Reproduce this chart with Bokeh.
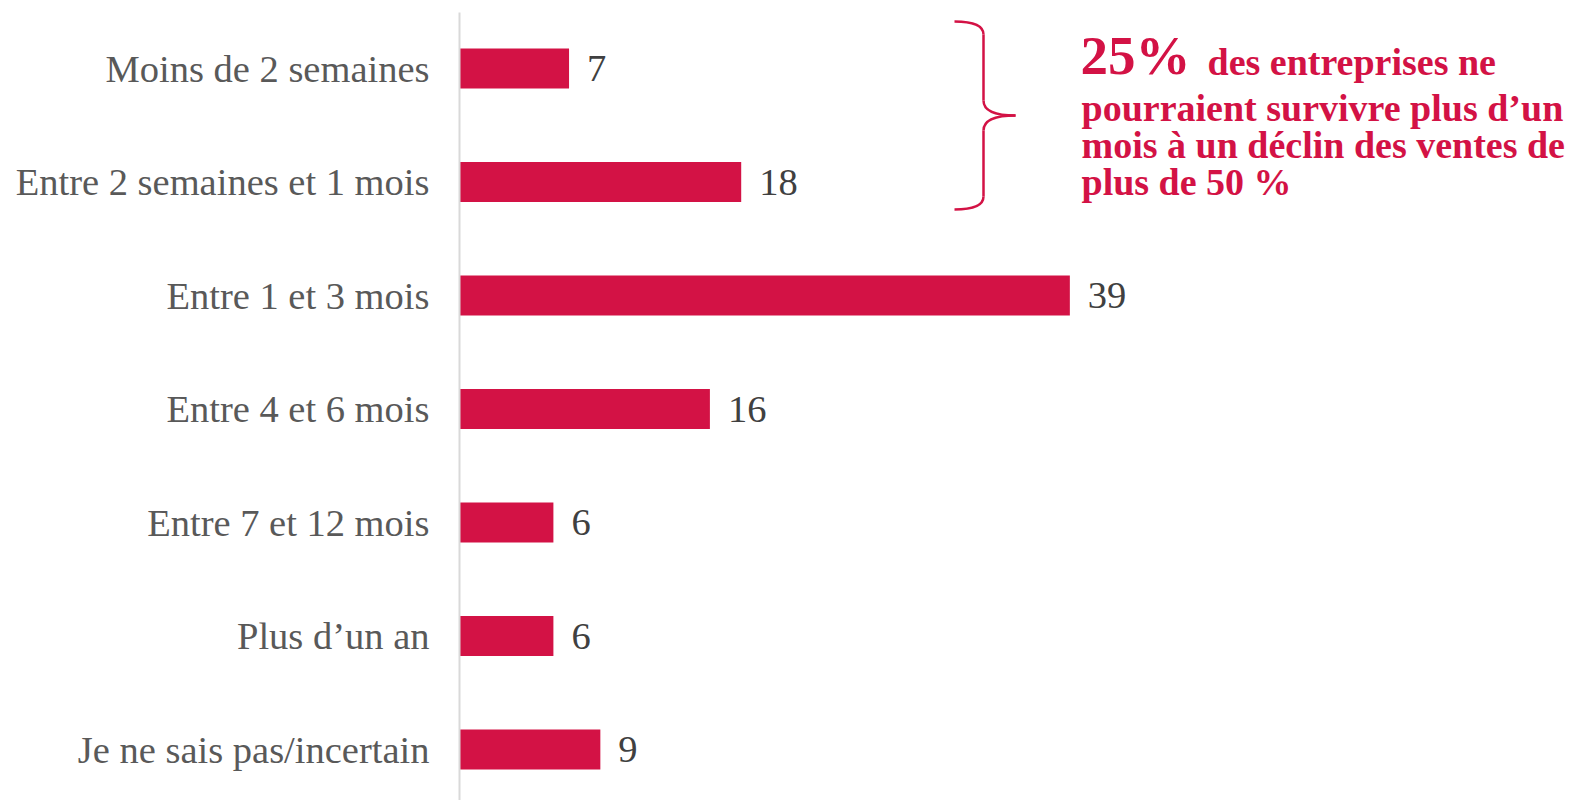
from bokeh.plotting import figure
from bokeh.models import Range1d, Label, ColumnDataSource, FixedTicker
from bokeh.core.properties import value
from bokeh.embed import file_html
from bokeh.resources import INLINE

# ---- data ----
categories = [
    "Moins de 2 semaines",
    "Entre 2 semaines et 1 mois",
    "Entre 1 et 3 mois",
    "Entre 4 et 6 mois",
    "Entre 7 et 12 mois",
    "Plus d\u2019un an",
    "Je ne sais pas/incertain",
]
values = [7, 18, 39, 16, 6, 6, 9]
value_labels = [str(v) for v in values]

note_big = "25%"
note_lines = [
    "des entreprises ne",
    "pourraient survivre plus d\u2019un",
    "mois \u00e0 un d\u00e9clin des ventes de",
    "plus de 50 %",
]

# ---- style / layout ----
RED = "#D31245"
FONT = "Liberation Serif"
W, H = 1580, 800
LEFT = 459
TOP = 12
PX_PER_UNIT = 15.65
ROW_PX = 113.5
FRAME_W = W - LEFT
FRAME_H = H - TOP

positions = list(range(len(categories)))
y_top = -56 / ROW_PX
y_bottom = y_top + FRAME_H / ROW_PX

p = figure(width=W, height=H, output_backend="svg", toolbar_location=None,
           x_range=Range1d(0, FRAME_W / PX_PER_UNIT),
           y_range=Range1d(y_bottom, y_top),
           min_border_left=LEFT, min_border_right=0,
           min_border_top=TOP, min_border_bottom=0)
p.outline_line_color = None
p.grid.visible = False
p.xaxis.visible = False
p.background_fill_color = "white"
p.border_fill_color = "white"

yax = p.yaxis[0]
yax.ticker = FixedTicker(ticks=positions)
yax.major_label_overrides = {i: c for i, c in zip(positions, categories)}
yax.major_tick_line_color = None
yax.minor_tick_line_color = None
yax.major_tick_out = 0
yax.major_tick_in = 0
yax.axis_line_color = "#d9d9d9"
yax.axis_line_width = 2
yax.major_label_standoff = 30
yax.major_label_text_font = FONT
yax.major_label_text_font_size = "38.5px"
yax.major_label_text_color = "#595959"

src = ColumnDataSource(dict(pos=positions, val=values, lab=value_labels))
p.hbar(y="pos", left=0, right="val", height=40 / ROW_PX, source=src,
       fill_color=RED, line_color=None)
p.text(x="val", y="pos", text="lab", source=src, x_offset=18,
       text_baseline="middle", text_align="left",
       text_font=value(FONT), text_font_size="38.5px", text_color="#404040")

# ---- helpers: page-pixel layout -> data ----
def dx(px):
    return (px - LEFT) / PX_PER_UNIT

def dy(py):
    return (py - (TOP + 56)) / ROW_PX

# ---- brace ----
bx0, bxv, btip = 954, 983, 1015
segs = [
    ((bx0, 21), (bxv, 21), (bxv, 34)),
    ((bxv, 100), (bxv, 115), (btip, 115)),
    ((btip, 115), (bxv, 115), (bxv, 130)),
    ((bxv, 196), (bxv, 209), (bx0, 209)),
]
p.quadratic(x0=[dx(s[0][0]) for s in segs], y0=[dy(s[0][1]) for s in segs],
            cx=[dx(s[1][0]) for s in segs], cy=[dy(s[1][1]) for s in segs],
            x1=[dx(s[2][0]) for s in segs], y1=[dy(s[2][1]) for s in segs],
            line_color=RED, line_width=2.5)
p.segment(x0=[dx(bxv), dx(bxv)], y0=[dy(34), dy(130)],
          x1=[dx(bxv), dx(bxv)], y1=[dy(100), dy(196)],
          line_color=RED, line_width=2.5)

# ---- annotation text ----
BIG_FS, FS = 55, 38
p.add_layout(Label(x=dx(1080), y=dy(74 - 0.34 * BIG_FS), text=note_big, text_font=FONT,
                   text_font_size=f"{BIG_FS}px", text_font_style="bold",
                   text_color=RED, text_baseline="alphabetic", text_align="left"))
line_x = [1207, 1081, 1081, 1081]
line_y = [74, 120, 157, 194]
for t, lx, ly in zip(note_lines, line_x, line_y):
    p.add_layout(Label(x=dx(lx), y=dy(ly - 0.34 * FS), text=t, text_font=FONT,
                       text_font_size=f"{FS}px", text_font_style="bold",
                       text_color=RED, text_baseline="alphabetic", text_align="left"))

open("out.html", "w").write(file_html(p, INLINE))
